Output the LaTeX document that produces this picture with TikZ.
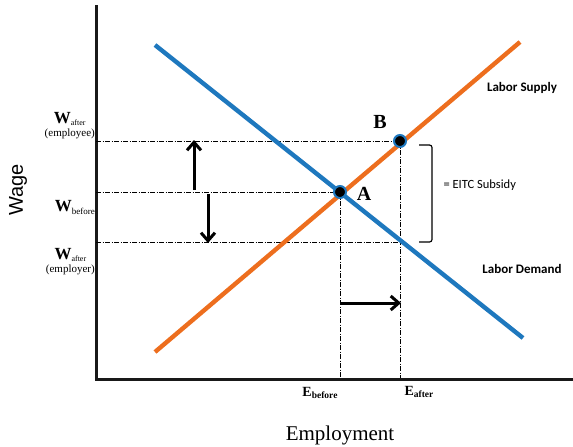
\documentclass[tikz,border=0pt]{standalone}
\usepackage{fontspec}
\setmainfont{Liberation Serif}
\newfontfamily\calib{Carlito}
\newfontfamily\arialf{Liberation Sans}
\usetikzlibrary{arrows.meta}
\definecolor{supplyc}{RGB}{237,110,30}
\definecolor{demandc}{RGB}{30,120,190}
\tikzset{
  axisline/.style={line width=3pt,black!90},
  guide/.style={line width=0.8pt,dash pattern=on 5pt off 1.5pt on 1pt off 1.5pt},
  curve/.style={line width=4.4pt},
  bigarrow/.style={line width=3pt,-{Straight Barb[length=8pt,width=14pt,line width=3pt]}},
  eqdot/.style={circle,fill=black,draw=demandc,line width=2pt,minimum size=12pt,inner sep=0pt},
  lab/.style={font=\calib\bfseries\fontsize{13}{14}\selectfont},
  wlab/.style={align=center,inner sep=0pt},
}
\begin{document}
\begin{tikzpicture}[x=1pt,y=-1pt]
\useasboundingbox (0,0) rectangle (573,447);
% coordinates
\coordinate (O) at (96,379);
\coordinate (Ytop) at (96,5);
\coordinate (Xend) at (573,379);
\coordinate (S1) at (155,352);
\coordinate (S2) at (520,42);
\coordinate (D1) at (155,45);
\coordinate (D2) at (523,338);
\coordinate (A) at (340,192);
\coordinate (B) at (400,141);
\coordinate (C) at (400,242);
\coordinate (YA) at (96,192);
\coordinate (YB) at (96,141);
\coordinate (YC) at (96,242);
\coordinate (XA) at (340,379);
\coordinate (XB) at (400,379);
% guides
\draw[guide] (YB) -- (B);
\draw[guide] (YA) -- (A);
\draw[guide] (YC) -- (C);
\draw[guide] (A) -- (XA);
\draw[guide] (B) -- (XB);
% curves
\draw[curve,supplyc] (S1) -- (S2);
\draw[curve,demandc] (D1) -- (D2);
% axes
\draw[axisline] (Ytop) -- (O) -- (Xend);
\draw[line width=0.8pt] (YB) -- ++(5,0) (YA) -- ++(5,0) (YC) -- ++(5,0);
% dots
\node[eqdot] (dA) at (A) {};
\node[eqdot] (dB) at (B) {};
\node[font=\bfseries\fontsize{20}{20}\selectfont] (lA) at (364,194) {A};
\node[font=\bfseries\fontsize{20}{20}\selectfont] (lB) at (380,122) {B};
% arrows
\coordinate (u1) at (194,190); \coordinate (u2) at (194,140);
\coordinate (d1) at (208,194); \coordinate (d2) at (208,243);
\coordinate (r1) at (340,303); \coordinate (r2) at (401,303);
\draw[bigarrow] (u1) -- (u2);
\draw[bigarrow] (d1) -- (d2);
\draw[bigarrow] (r1) -- (r2);
% bracket
\draw[line width=1.2pt,rounded corners=2.5pt] (419,145) -- (432,145) -- (432,242) -- (419,242);
\node[anchor=west,font=\calib\fontsize{12.5}{14}\selectfont] (eitc) at (440,185) {= EITC Subsidy};
% curve labels
\node[lab] (ls) at (522,88) {Labor Supply};
\node[lab] (ld) at (522,269) {Labor Demand};
% W labels
\node[wlab,anchor=east] (wa) at (95,126) {\fontsize{17}{17}\selectfont\bfseries W\raisebox{-2pt}{\fontsize{8}{8}\selectfont\mdseries after}\\[1pt]\fontsize{11}{11}\selectfont (employee)};
\node[wlab,anchor=east] (wb) at (95,207) {\fontsize{17}{17}\selectfont\bfseries W\raisebox{-3pt}{\fontsize{9}{9}\selectfont\mdseries before}};
\node[wlab,anchor=east] (wc) at (95,262) {\fontsize{17}{17}\selectfont\bfseries W\raisebox{-2pt}{\fontsize{8}{8}\selectfont\mdseries after}\\[1pt]\fontsize{11}{11}\selectfont (employer)};
% E labels
\node[font=\bfseries\fontsize{14}{14}\selectfont] (eb) at (320,393) {E\raisebox{-2pt}{\fontsize{9.5}{9}\selectfont before}};
\node[font=\bfseries\fontsize{14}{14}\selectfont] (ea) at (419,392) {E\raisebox{-2pt}{\fontsize{9.5}{9}\selectfont after}};
% axis titles
\node[font=\arialf\fontsize{20}{20}\selectfont,rotate=90] (wage) at (18,190) {Wage};
\node[font=\fontsize{21}{21}\selectfont] (emp) at (340,435) {Employment};
\end{tikzpicture}
\end{document}
